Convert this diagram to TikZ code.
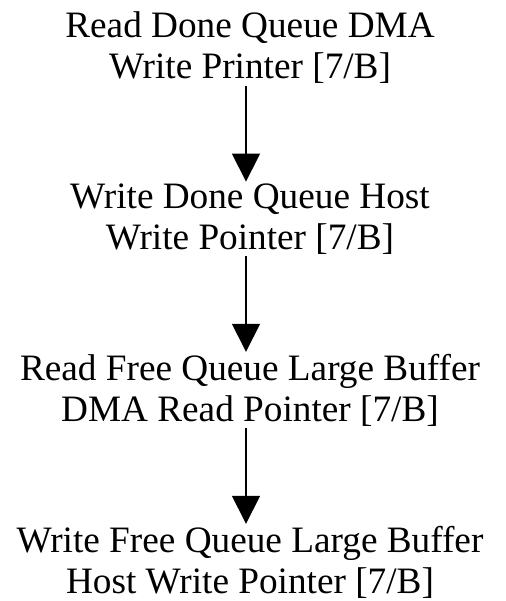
\documentclass[tikz,border=0pt]{standalone}
\usepackage{fontspec}
\setmainfont{Liberation Serif}
\usetikzlibrary{arrows.meta}
\begin{document}
\begin{tikzpicture}[
		every node/.style={font=\fontsize{21.2}{23.3}\selectfont, align=center},
		stage/.style={inner sep=1pt},
		flow/.style={-{Triangle[length=0.56cm, width=0.56cm]}, line width=0.8pt}
	]
		\useasboundingbox (0,0) rectangle (10.1,-12.02);

		\node[stage] (rdq) at (5.0, -0.96) {Read Done Queue DMA\\Write Printer [7/B]};
		\node[stage] (wdq) at (5.0, -4.38) {Write Done Queue Host\\Write Pointer [7/B]};
		\node[stage] (rfq) at (5.0, -7.80) {Read Free Queue Large Buffer\\DMA Read Pointer [7/B]};
		\node[stage] (wfq) at (5.0, -11.24) {Write Free Queue Large Buffer\\Host Write Pointer [7/B]};

		\draw[flow] ([xshift=-0.08cm]rdq.south) -- ([xshift=-0.08cm]wdq.north);
		\draw[flow] ([xshift=-0.08cm]wdq.south) -- ([xshift=-0.08cm]rfq.north);
		\draw[flow] ([xshift=-0.08cm]rfq.south) -- ([xshift=-0.08cm]wfq.north);
	\end{tikzpicture}
\end{document}
